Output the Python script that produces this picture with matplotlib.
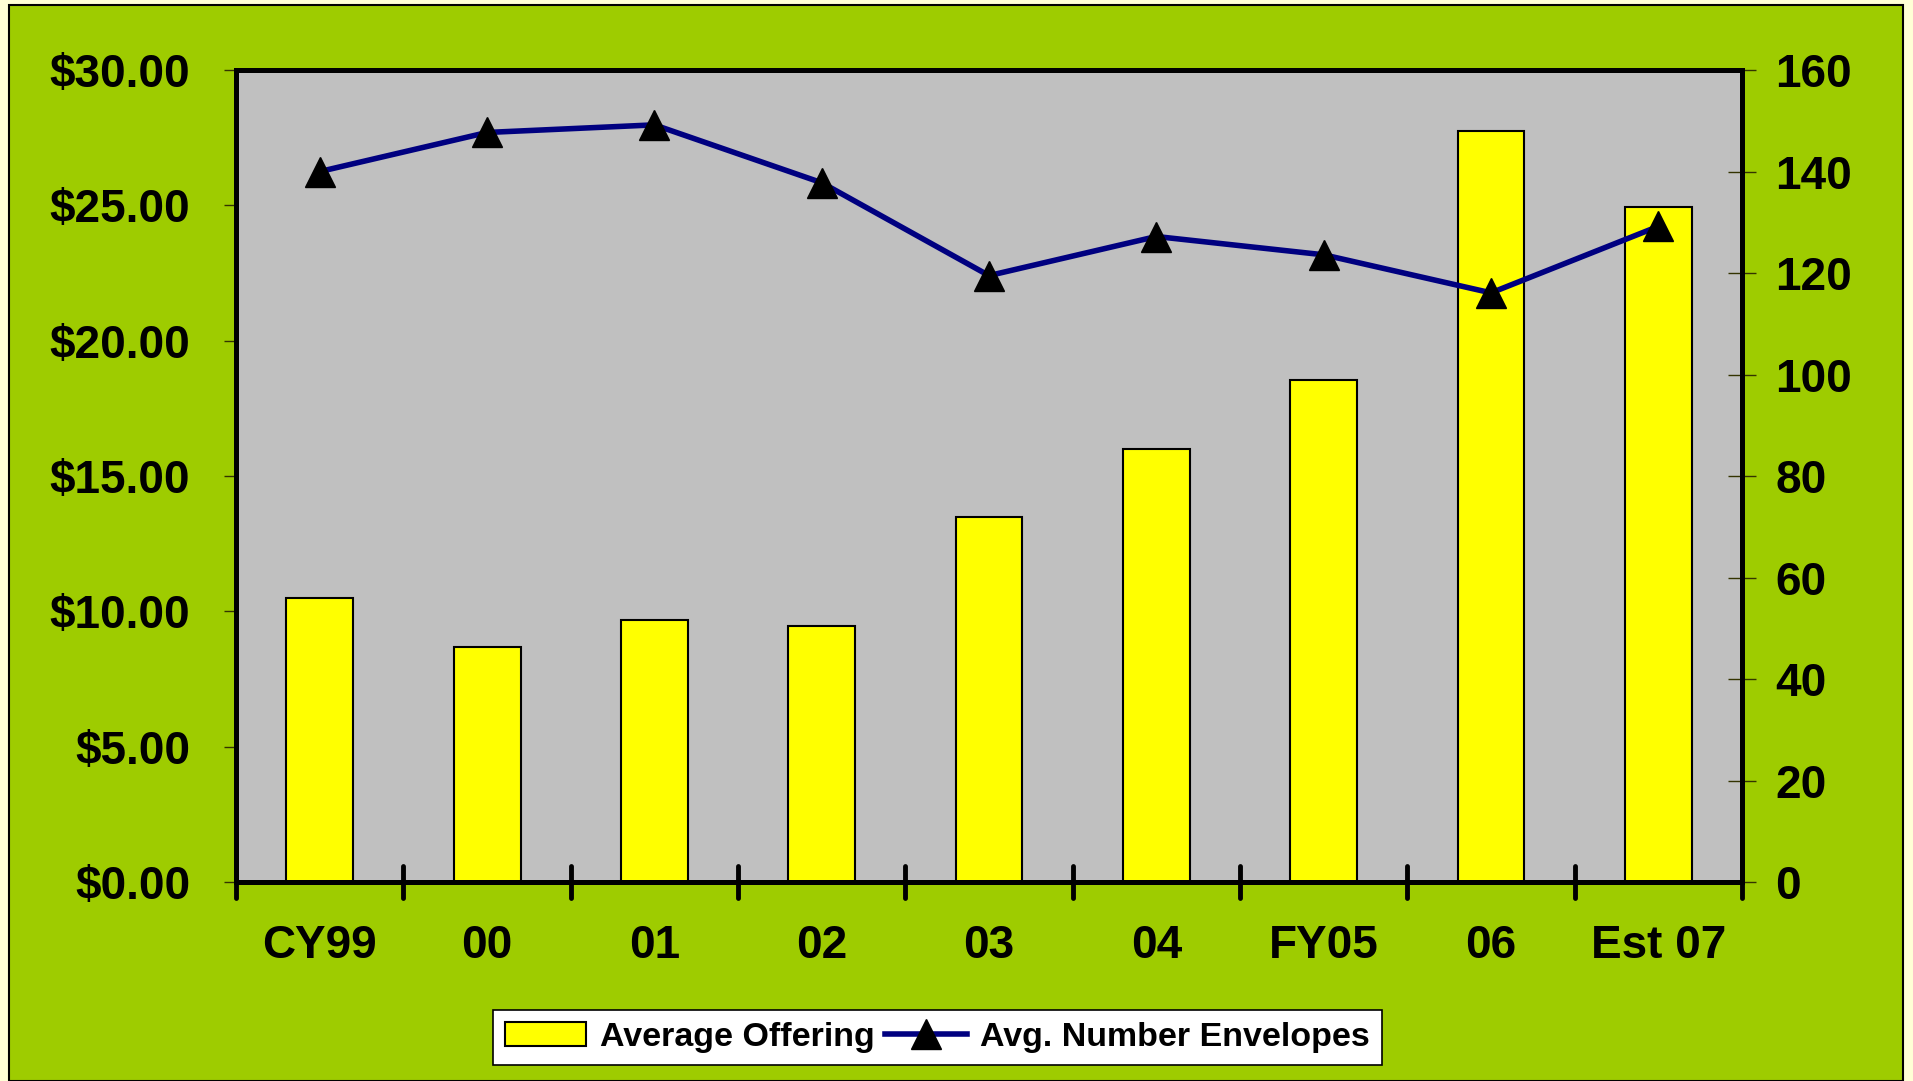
import matplotlib
matplotlib.use("Agg")
import matplotlib.pyplot as plt
from matplotlib.patches import Rectangle
from matplotlib.markers import MarkerStyle
from matplotlib.ticker import FuncFormatter

# data
years = ["CY99", "00", "01", "02", "03", "04", "FY05", "06", "Est 07"]
avg_offering = [10.5, 8.7, 9.7, 9.45, 13.5, 16.0, 18.55, 27.75, 24.95]
avg_envelopes = [140, 147.7, 149.2, 137.8, 119.5, 127.2, 123.6, 116.1, 129.2]

green = "#9ECC00"
plt.rcParams["font.family"] = ["Liberation Sans", "DejaVu Sans"]
plt.rcParams["font.weight"] = "bold"

fig = plt.figure(figsize=(19.13, 10.81), dpi=100)
fig.patch.set_facecolor("#FFFFD5")
bg = Rectangle((9 / 1913, 0), 1894 / 1913, 1 - 5 / 1081,
               transform=fig.transFigure, facecolor=green,
               edgecolor="black", linewidth=1.5, zorder=-5)
fig.add_artist(bg)

ax = fig.add_axes([0.1234, 0.184, 0.9106 - 0.1234, 0.9352 - 0.184])
ax.set_facecolor("#C0C0C0")
x = range(len(years))
bars = ax.bar(x, avg_offering, width=0.4, color="#FFFF00", edgecolor="black",
              linewidth=1.5, label="Average Offering", zorder=2)
ax.set_xlim(-0.5, len(years) - 0.5)
ax.set_ylim(0, 30)
ax.set_yticks([0, 5, 10, 15, 20, 25, 30])
ax.yaxis.set_major_formatter(FuncFormatter(lambda v, p: "${:.2f}".format(v)))
ax.tick_params(axis="y", direction="out", length=9, width=1, color="#333300",
               labelsize=33, pad=24)

# category labels centred, ticks on boundaries
ax.set_xticks([i + 0.5 for i in range(-1, len(years))])
ax.set_xticklabels([])
ax.set_xticks(list(x), minor=True)
ax.set_xticklabels(years, minor=True, fontsize=33, fontweight="bold")
ax.tick_params(axis="x", which="major", direction="inout", length=23, width=3.5,
               color="black")
ax.tick_params(axis="x", which="minor", length=0, pad=30)
for t in ax.xaxis.get_major_ticks():
    t.tick1line.set_marker(MarkerStyle("|", capstyle="round"))

for s in ax.spines.values():
    s.set_linewidth(3.6)
    s.set_zorder(5)

ax2 = ax.twinx()
line, = ax2.plot(list(x), avg_envelopes, color="#000080", linewidth=4,
                 marker="^", markersize=22, markerfacecolor="black",
                 markeredgecolor="black", label="Avg. Number Envelopes", zorder=3)
ax2.set_ylim(0, 160)
ax2.set_yticks(range(0, 161, 20))
ax2.tick_params(axis="y", direction="inout", length=20, width=1, color="#333300",
                labelsize=33, pad=14)
for s in ax2.spines.values():
    s.set_linewidth(3.6)
for lab in ax.get_yticklabels() + ax2.get_yticklabels():
    lab.set_fontweight("bold")

leg = fig.legend([bars, line], ["Average Offering", "Avg. Number Envelopes"],
                 loc="center", bbox_to_anchor=(0.49, 0.04), ncol=2,
                 fontsize=24.5, frameon=True, fancybox=False, edgecolor="black",
                 facecolor="white", framealpha=1, handlelength=2.4,
                 handletextpad=0.4, columnspacing=0.3, borderpad=0.35)
leg.get_frame().set_linewidth(1.2)
for t in leg.get_texts():
    t.set_fontweight("bold")

fig.savefig("out.png", dpi=100, facecolor=fig.get_facecolor())
